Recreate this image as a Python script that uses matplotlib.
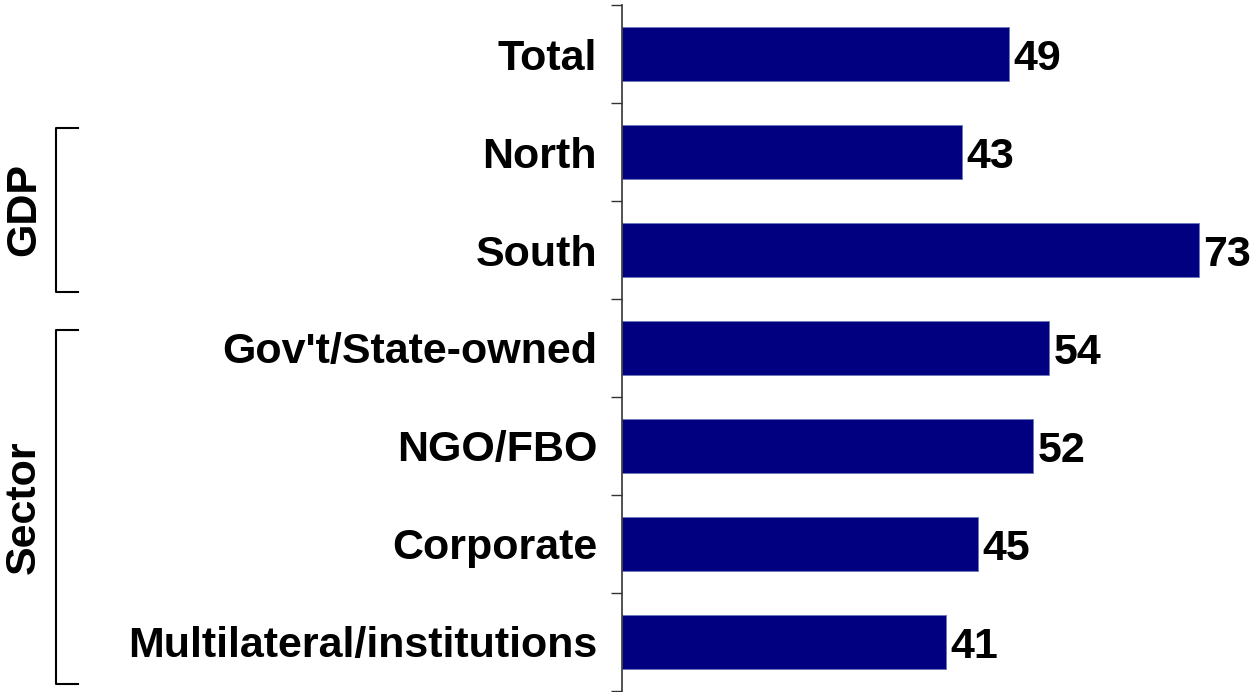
import matplotlib
matplotlib.use("Agg")
import matplotlib.pyplot as plt
from matplotlib import font_manager
import numpy as np

labels = ['Total', 'North', 'South', "Gov't/State-owned", 'NGO/FBO', 'Corporate',
          'Multilateral/institutions']
values = [49, 43, 73, 54, 52, 45, 41]
groups = [('GDP', 1, 2), ('Sector', 3, 6)]

names = {f.name for f in font_manager.fontManager.ttflist}
font = 'Liberation Sans Narrow' if 'Liberation Sans Narrow' in names else 'Liberation Sans'
plt.rcParams['font.family'] = font
plt.rcParams['font.weight'] = 'bold'
fs = 31

fig = plt.figure(figsize=(12.54, 6.92), dpi=100)
ax = fig.add_axes([622/1254, 1/692, 1 - 622/1254, 686/692])

y = np.arange(len(labels))
bars = ax.barh(y, values, height=0.56, color='#000080', edgecolor='#6a78b8', linewidth=0.6)
ax.set_ylim(len(labels) - 0.5, -0.5)
ax.set_xlim(0, 80)

for yi, v in zip(y, values):
    ax.text(v + 0.6, yi, str(v), va='center_baseline', ha='left', fontsize=fs,
            fontweight='bold')

ax.set_yticks(y)
ax.set_yticklabels(labels, fontsize=fs, fontweight='bold', va='center_baseline')
ax.tick_params(axis='y', which='major', length=0, pad=18)
ax.set_yticks(np.arange(-0.5, len(labels)), minor=True)
ax.tick_params(axis='y', which='minor', length=8, width=1, color='#333333')
ax.set_xticks([])
for s in ['top', 'right', 'bottom']:
    ax.spines[s].set_visible(False)
ax.spines['left'].set_color('#333333')
ax.spines['left'].set_linewidth(1.2)

# group brackets on the left
trans = matplotlib.transforms.blended_transform_factory(fig.transFigure, ax.transData)
bx, ex = 56/1254, 78/1254
for name, a, b in groups:
    top, bot = a - 0.25 + (0.07 if name == 'Sector' else 0), b + 0.5 - 0.07
    ax.plot([ex, bx, bx, ex], [top, top, bot, bot], color='black', lw=1.5,
            transform=trans, clip_on=False)
    ax.text(24/1254, (top + bot) / 2, name, rotation=90, ha='center', va='center',
            fontsize=fs, fontweight='bold', transform=trans)

fig.savefig('out.png', dpi=100)
